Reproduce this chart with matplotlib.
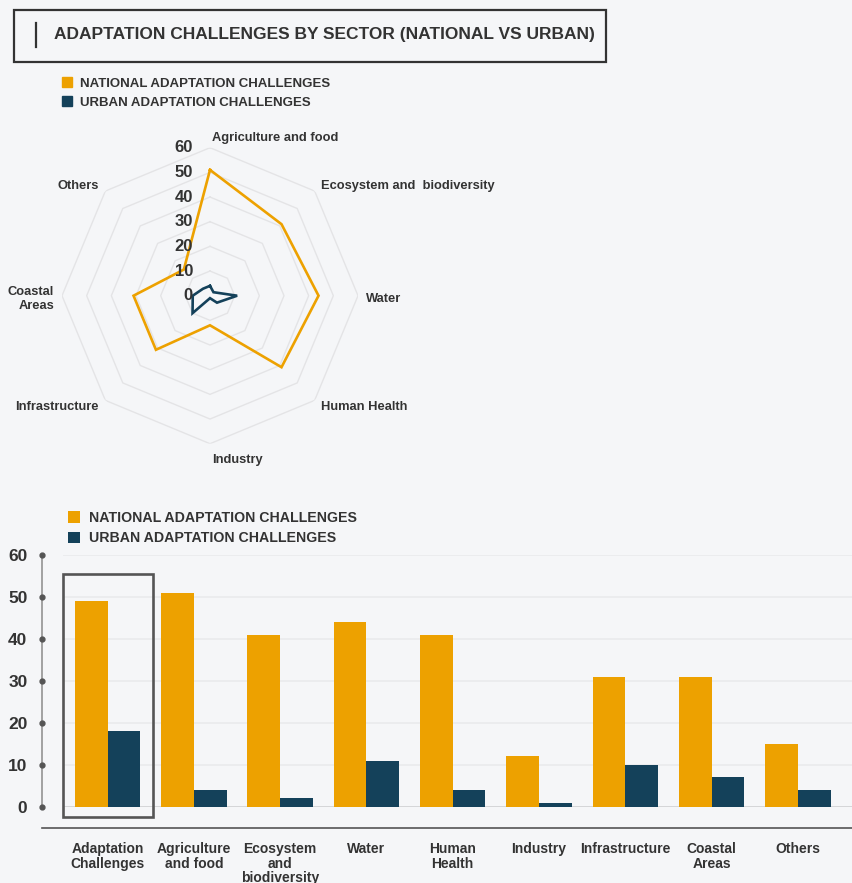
import numpy as np
import matplotlib
matplotlib.use("Agg")
import matplotlib.pyplot as plt
from matplotlib.patches import Rectangle, Patch
from matplotlib.lines import Line2D

# Chart data
title = "ADAPTATION CHALLENGES BY SECTOR (NATIONAL VS URBAN)"
series_names = ["NATIONAL ADAPTATION CHALLENGES", "URBAN ADAPTATION CHALLENGES"]

radar_labels = ["Agriculture and food", "Ecosystem and  biodiversity", "Water",
                "Human Health", "Industry", "Infrastructure", "Coastal\nAreas", "Others"]
radar_national = [51, 41, 44, 41, 12, 31, 31, 15]
radar_urban = [4, 2, 11, 4, 1, 10, 7, 4]
radial_ticks = [0, 10, 20, 30, 40, 50, 60]

bar_labels = ["Adaptation\nChallenges", "Agriculture\nand food", "Ecosystem\nand\nbiodiversity",
              "Water", "Human\nHealth", "Industry", "Infrastructure", "Coastal\nAreas", "Others"]
bar_national = [49, 51, 41, 44, 41, 12, 31, 31, 15]
bar_urban = [18, 4, 2, 11, 4, 1, 10, 7, 4]
bar_ticks = [0, 10, 20, 30, 40, 50, 60]

# Styling
ORANGE = "#eda100"
NAVY = "#14415a"
TEXT = "#333333"
BG = "#f5f6f8"
W, H = 853, 883

plt.rcParams["font.family"] = ["Liberation Sans", "DejaVu Sans"]
plt.rcParams["font.weight"] = "bold"


def fx(x):
    return x / W


def fy(y):
    return 1 - y / H


fig = plt.figure(figsize=(W / 100, H / 100), dpi=100, facecolor=BG)

# Title box
fig.add_artist(Rectangle((fx(14), fy(62)), 592 / W, 52 / H, transform=fig.transFigure,
                         fill=False, ec=TEXT, lw=1.6))
fig.add_artist(Line2D([fx(36), fx(36)], [fy(23), fy(47)], transform=fig.transFigure,
                      color=TEXT, lw=1.6))
fig.text(fx(54), fy(35), title, ha="left", va="center", fontsize=12.5,
         fontweight="bold", color=TEXT)

# Radar chart
rax = fig.add_axes([fx(62), fy(443.7), 296 / W, 296 / H], projection="polar")
rax.set_facecolor("none")
rax.set_theta_offset(np.pi / 2)
rax.set_theta_direction(-1)
rax.set_ylim(0, 60)
rax.grid(False)
rax.set_xticks([])
rax.set_yticks([])
rax.spines["polar"].set_visible(False)

n = len(radar_labels)
angles = np.linspace(0, 2 * np.pi, n, endpoint=False)
closed = np.append(angles, angles[0])

for v in radial_ticks[1:]:
    rax.plot(closed, [v] * (n + 1), color="#e4e4e6", lw=1.0, zorder=1)

rax.plot(closed, radar_national + radar_national[:1], color=ORANGE, lw=1.9, zorder=3,
         solid_joinstyle="miter")
rax.plot(closed, radar_urban + radar_urban[:1], color=NAVY, lw=1.9, zorder=3,
         solid_joinstyle="miter")

for v in radial_ticks:
    rax.annotate(str(v), xy=(0, v), xytext=(-17, 0), textcoords="offset pixels",
                 ha="right", va="center", fontsize=12, fontweight="bold",
                 color=TEXT, zorder=5, annotation_clip=False)

for ang, lab in zip(angles, radar_labels):
    s, c = np.sin(ang), np.cos(ang)
    if abs(s) < 0.01:
        ha, dx, dy = "left", 2, 13 * c - 3
    elif abs(c) < 0.01:
        ha, dx, dy = ("left" if s > 0 else "right"), 8 * s, -3
    else:
        ha, dx, dy = ("left" if s > 0 else "right"), 9 * s, 8 * c - 1
    rax.annotate(lab, xy=(ang, 60), xytext=(dx, dy), textcoords="offset pixels",
                 ha=ha, va="center", fontsize=9.3, fontweight="bold", color=TEXT,
                 linespacing=1.2, multialignment="right", annotation_clip=False)

fig.legend(handles=[Patch(color=ORANGE, label=series_names[0]),
                    Patch(color=NAVY, label=series_names[1])],
           loc="upper left", bbox_to_anchor=(fx(62), fy(77)), frameon=False,
           handlelength=0.78, handleheight=0.78, handletextpad=0.6,
           labelspacing=0.52, borderpad=0, borderaxespad=0, labelcolor=TEXT,
           prop={"weight": "bold", "size": 9.5})

# Bar chart
ax = fig.add_axes([fx(63), fy(806.7), (W - 63) / W, (806.7 - 555) / H])
ax.set_facecolor("none")
x = np.arange(len(bar_labels))
bw = 0.379
ax.bar(x - bw / 2, bar_national, bw, color=ORANGE, zorder=3, label=series_names[0])
ax.bar(x + bw / 2, bar_urban, bw, color=NAVY, zorder=3, label=series_names[1])
ax.set_xlim(-0.516, 8.638)
ax.set_ylim(0, 60)

ax.set_yticks(bar_ticks)
ax.yaxis.grid(True, color="#e9e9eb", lw=1.1, zorder=0)
ax.axhline(0, color="#cfcfd1", lw=1.8, zorder=2)
for side in ["top", "right", "bottom"]:
    ax.spines[side].set_visible(False)
ax.spines["left"].set_position(("outward", 21 * 0.72))
ax.spines["left"].set_color("#8a8a8a")
ax.spines["left"].set_linewidth(1.1)
ax.spines["left"].set_bounds(0, 60)
ax.tick_params(axis="y", length=0, pad=10.5, labelsize=12.5, labelcolor=TEXT)
for t in ax.get_yticklabels():
    t.set_fontweight("bold")
ax.plot([-21 / (W - 63)] * len(bar_ticks), bar_ticks, "o", ms=3.5, color="#555555",
        transform=ax.get_yaxis_transform(), clip_on=False, zorder=4)

ax.set_xticks(x)
ax.set_xticklabels(bar_labels, fontsize=10, fontweight="bold", color=TEXT,
                   linespacing=1.05, va="top")
ax.tick_params(axis="x", length=0, pad=25.5)

# bottom rule and highlight box
ax.plot([-21 / (W - 63), 1], [-5.1, -5.1], color="#555555", lw=1.2,
        transform=ax.get_yaxis_transform(), clip_on=False)
ax.add_patch(Rectangle((-0.519, -2.5), 1.043, 58, fill=False, ec="#555555", lw=1.9,
                       clip_on=False, zorder=5))

ax.legend(loc="upper left", bbox_to_anchor=(fx(68), fy(511)),
          bbox_transform=fig.transFigure, frameon=False, handlelength=0.86,
          handleheight=0.86, handletextpad=0.6, labelspacing=0.45, borderpad=0,
          borderaxespad=0, labelcolor=TEXT, prop={"weight": "bold", "size": 10.2})

fig.savefig("out.png", dpi=100, facecolor=BG)
